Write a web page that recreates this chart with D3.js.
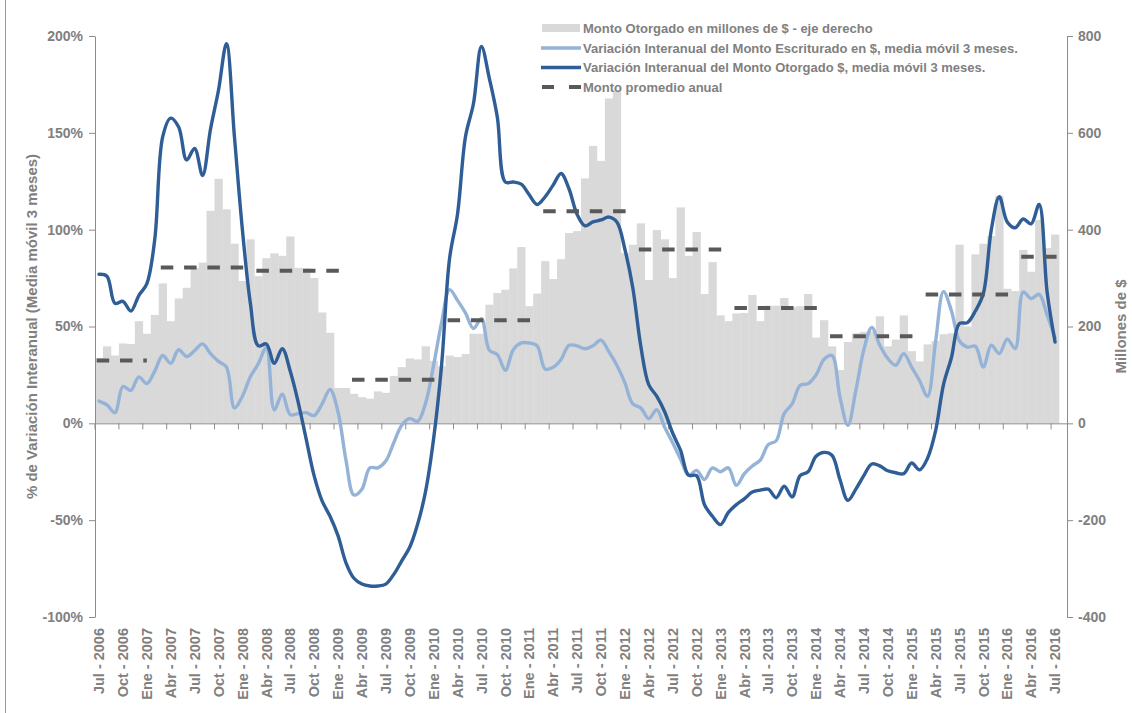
<!DOCTYPE html>
<html>
<head>
<meta charset="utf-8">
<script src="https://cdn.jsdelivr.net/npm/d3@7"></script>
<style>
  html, body { margin: 0; padding: 0; background: #ffffff; }
  svg { display: block; font-family: "Liberation Sans", Arial, sans-serif; }
</style>
</head>
<body>
<svg id="chart" width="1132" height="713"></svg>
<script>
// ---- Categories: monthly slots from Jul 2006 (one trailing empty slot after Jul 2016)
const monthNames = ["Ene", "Feb", "Mar", "Abr", "May", "Jun", "Jul", "Ago", "Sep", "Oct", "Nov", "Dic"];
const firstYear = 2006, firstMonth = 6, slotCount = 122;
const categories = d3.range(slotCount).map(i => {
  const m = (firstMonth + i) % 12, y = firstYear + Math.floor((firstMonth + i) / 12);
  return monthNames[m] + " - " + y;
});

// ---- Monto Otorgado en millones de $ (right axis), Jul 2006 .. Jul 2016
const montoOtorgado = [
  135, 159, 140, 165, 164, 211,
  185, 224, 289, 211, 258, 280, 321, 332, 439, 505, 442, 371,
  294, 380, 304, 341, 351, 346, 386, 321, 320, 300, 229, 187,
  73, 73, 61, 54, 51, 66, 63, 98, 116, 134, 132, 159,
  129, 118, 140, 137, 143, 185, 185, 245, 269, 276, 320, 364,
  242, 268, 335, 298, 339, 393, 397, 506, 573, 542, 671, 688,
  352, 369, 413, 296, 399, 380, 300, 446, 346, 395, 267, 333,
  223, 211, 227, 228, 265, 211, 243, 243, 259, 240, 242, 267,
  177, 213, 159, 110, 168, 186, 189, 190, 221, 159, 173, 223,
  149, 128, 163, 170, 184, 186, 369, 200, 349, 371, 387, 470,
  278, 273, 358, 313, 420, 362, 390
];

// ---- Variación interanual del monto escriturado, media móvil 3 meses (%)
const varEscriturado = [
  11.5, 9.5, 5.5, 19, 17, 24,
  20.5, 27, 35, 31, 38, 34.5, 37.5, 41, 36, 32, 29, 8,
  14, 24, 30.8, 39, 7, 15, 4.5, 5, 5.5, 4, 10, 17.5,
  6, -19, -37, -34, -23, -23, -19.5, -10, -1, 2.5, 1, 10.5,
  30, 52, 69, 63.5, 57, 49, 54, 37.7, 35.5, 27.4, 38, 41.5,
  41.5, 40, 28, 29, 33, 40.3, 40, 38.5, 40, 43, 37, 30,
  21, 10, 8, 2.4, 7, -2, -10, -18.5, -26.8, -24.3, -29, -23,
  -25, -23, -32, -26, -22, -19, -11, -9, 5, 10, 19.6, 20.5,
  25, 33, 35, 13.6, -1, 17, 38, 49.5, 40.3, 33.5, 30, 36,
  29, 22, 14, 42, 68, 58, 42.5, 39.4, 39.8, 29, 40.3, 36,
  43.5, 38.6, 67.8, 64.4, 66.6, 56, 44
];

// ---- Variación interanual del monto otorgado, media móvil 3 meses (%)
const varOtorgado = [
  77, 76, 62, 63, 58, 66,
  72, 95, 148, 157.6, 153, 136, 142, 128, 152, 172, 196, 148,
  100, 62, 40, 41, 31, 38.6, 27, 11, -8, -27, -40, -48,
  -58, -72, -80, -83, -84, -84, -83, -78, -71, -64, -52, -35,
  -8, 30, 85, 108, 148, 165, 194.6, 178, 158, 124.6, 124.6, 123.5,
  118, 113, 117, 123, 129, 121, 108, 102, 104, 105, 106.5, 104,
  90, 70, 40, 20, 14, 6, -5, -14, -26.8, -27, -42, -48,
  -52.3, -46, -42, -39, -35.5, -34.5, -34, -38.4, -32.5, -38, -27, -25,
  -17, -15, -16.5, -29, -39.8, -34, -27, -21, -22, -24.5, -25.5, -26,
  -20.5, -24, -18, -4, 20, 34, 51.5, 52, 58, 67, 100, 117,
  104, 101, 105.5, 103, 113, 68, 42
];

// ---- Monto promedio anual (right axis) and the months each average spans
const avgYears  = [2006, 2007, 2008, 2009, 2010, 2011, 2012, 2013, 2014, 2015, 2016];
const avgValues = [130, 322, 315, 90, 213, 438, 359, 238, 180, 266, 344];
const avgFrom   = ["Jul - 2006", "Ene - 2007", "Ene - 2008", "Ene - 2009", "Ene - 2010", "Ene - 2011",
                   "Ene - 2012", "Ene - 2013", "Ene - 2014", "Ene - 2015", "Ene - 2016"];
const avgTo     = ["Dic - 2006", "Dic - 2007", "Dic - 2008", "Dic - 2009", "Dic - 2010", "Dic - 2011",
                   "Dic - 2012", "Dic - 2013", "Dic - 2014", "Dic - 2015", "Jun - 2016"];

// ---- Axis ticks
const leftTicks  = [-1, -0.5, 0, 0.5, 1, 1.5, 2];
const rightTicks = [-400, -200, 0, 200, 400, 600, 800];
const labelEvery = 3;

const legendItems = [
  { key: "bar",    text: "Monto Otorgado en millones de $ - eje derecho" },
  { key: "light",  text: "Variación Interanual del Monto Escriturado en $, media móvil 3 meses." },
  { key: "dark",   text: "Variación Interanual del Monto Otorgado $, media móvil 3 meses." },
  { key: "dashed", text: "Monto promedio anual" }
];

// ---- Layout and styles
const plot = { left: 95, right: 1067, top: 36, bottom: 617 };
const colors = {
  bar: "#d9d9d9", light: "#95b3d7", dark: "#2f5d95", dashed: "#595959",
  text: "#808080", axis: "#8c8c8c"
};
const FONT = "'Liberation Sans', Arial, sans-serif";

const svg = d3.select("#chart");

// Outer frame edge of the chart area
svg.append("line").attr("x1", 5.5).attr("x2", 5.5).attr("y1", 0).attr("y2", 713)
  .attr("stroke", "#9a9a9a").attr("stroke-width", 1);

const x = d3.scaleBand().domain(categories).range([plot.left, plot.right]).padding(0);
const bw = x.bandwidth();
const cx = c => x(c) + bw / 2;
const yL = d3.scaleLinear().domain([-1, 2]).range([plot.bottom, plot.top]);
const yR = d3.scaleLinear().domain([-400, 800]).range([plot.bottom, plot.top]);

// Bars
svg.append("g").selectAll("rect")
  .data(montoOtorgado)
  .join("rect")
  .attr("x", (d, i) => x(categories[i]))
  .attr("width", bw + 0.3)
  .attr("y", d => yR(Math.max(0, d)))
  .attr("height", d => Math.abs(yR(d) - yR(0)))
  .attr("fill", colors.bar);

// Left axis
const gL = svg.append("g").attr("transform", `translate(${plot.left},0)`)
  .call(d3.axisLeft(yL).tickValues(leftTicks).tickSize(6).tickSizeOuter(0)
    .tickFormat(d => Math.round(d * 100) + "%"));
// Right axis
const gR = svg.append("g").attr("transform", `translate(${plot.right},0)`)
  .call(d3.axisRight(yR).tickValues(rightTicks).tickSize(6).tickSizeOuter(0)
    .tickFormat(d => String(d)));
[gL, gR].forEach(g => {
  g.select(".domain").attr("stroke", colors.axis);
  g.selectAll(".tick line").attr("stroke", colors.axis);
  g.selectAll(".tick text").attr("fill", colors.text)
    .style("font-size", "14px").style("font-weight", "bold")
    .style("font-family", FONT);
});
gL.selectAll(".tick text").attr("x", -12);
gR.selectAll(".tick text").attr("x", 11);

// Category axis along the zero line; ticks sit on the month boundaries
const tickCats = categories.filter((c, i) => i % labelEvery === 0 && i < 121);
const gX = svg.append("g").attr("transform", `translate(0,${yR(0)})`)
  .call(d3.axisBottom(x).tickValues(tickCats).tickSize(6).tickSizeOuter(0).tickFormat(""));
gX.select(".domain").attr("stroke", colors.axis).attr("d", `M${plot.left},0.5H${plot.right}`);
gX.selectAll(".tick").attr("transform", d => `translate(${x(d)},0)`);
gX.selectAll(".tick line").attr("stroke", colors.axis);

// Category labels below the plot, rotated
const gXL = svg.append("g").attr("transform", `translate(0,${plot.bottom})`)
  .call(d3.axisBottom(x).tickValues(tickCats).tickSize(0).tickFormat(d => d));
gXL.select(".domain").remove();
gXL.selectAll(".tick text")
  .attr("fill", colors.text)
  .style("font-size", "14.5px").style("font-weight", "bold")
  .style("font-family", FONT)
  .attr("text-anchor", "end")
  .attr("transform", "rotate(-90)")
  .attr("x", -11).attr("y", 0).attr("dy", "0.36em");

// Lines (left axis)
const lineGen = d3.line()
  .x((d, i) => cx(categories[i]))
  .y(d => yL(d / 100))
  .curve(d3.curveCatmullRom.alpha(0.5));

svg.append("path").datum(varEscriturado)
  .attr("d", lineGen).attr("fill", "none")
  .attr("stroke", colors.light).attr("stroke-width", 3.4)
  .attr("stroke-linejoin", "round").attr("stroke-linecap", "round");

svg.append("path").datum(varOtorgado)
  .attr("d", lineGen).attr("fill", "none")
  .attr("stroke", colors.dark).attr("stroke-width", 3.4)
  .attr("stroke-linejoin", "round").attr("stroke-linecap", "round");

// Annual averages (right axis), dashed
svg.append("g").selectAll("line")
  .data(avgValues)
  .join("line")
  .attr("x1", (d, i) => cx(avgFrom[i]) + (i === 0 ? -2.3 : 14))
  .attr("x2", (d, i) => cx(avgTo[i]) + (i === 0 ? 8 : 9.5))
  .attr("y1", d => yR(d)).attr("y2", d => yR(d))
  .attr("stroke", colors.dashed).attr("stroke-width", 4)
  .attr("stroke-dasharray", "12.5,10.8");

// Axis titles
svg.append("text")
  .attr("transform", `translate(37,${(plot.top + plot.bottom) / 2}) rotate(-90)`)
  .attr("text-anchor", "middle")
  .attr("fill", colors.text)
  .style("font-size", "15px").style("font-weight", "bold")
  .text("% de Variación Interanual (Media móvil 3 meses)");

svg.append("text")
  .attr("transform", `translate(1126,${(plot.top + plot.bottom) / 2}) rotate(-90)`)
  .attr("text-anchor", "middle")
  .attr("fill", colors.text)
  .style("font-size", "15px").style("font-weight", "bold")
  .text("Millones de $");

// Legend
const lg = svg.append("g").attr("transform", "translate(541,0)");
const rowY = [28, 48, 67.5, 87];
legendItems.forEach((it, i) => {
  const g = lg.append("g").attr("transform", `translate(0,${rowY[i]})`);
  if (it.key === "bar") {
    g.append("rect").attr("x", 1).attr("y", -4).attr("width", 38).attr("height", 8).attr("fill", colors.bar);
  } else if (it.key === "dashed") {
    g.append("line").attr("x1", 1).attr("x2", 40).attr("y1", 0).attr("y2", 0)
      .attr("stroke", colors.dashed).attr("stroke-width", 4).attr("stroke-dasharray", "12,15");
  } else {
    g.append("line").attr("x1", 0).attr("x2", 40).attr("y1", 0).attr("y2", 0)
      .attr("stroke", colors[it.key]).attr("stroke-width", 3.4);
  }
  g.append("text").attr("x", 42).attr("y", 0).attr("dy", "0.35em")
    .attr("fill", colors.text)
    .style("font-size", "13px").style("font-weight", "bold")
    .text(it.text);
});
</script>
</body>
</html>
